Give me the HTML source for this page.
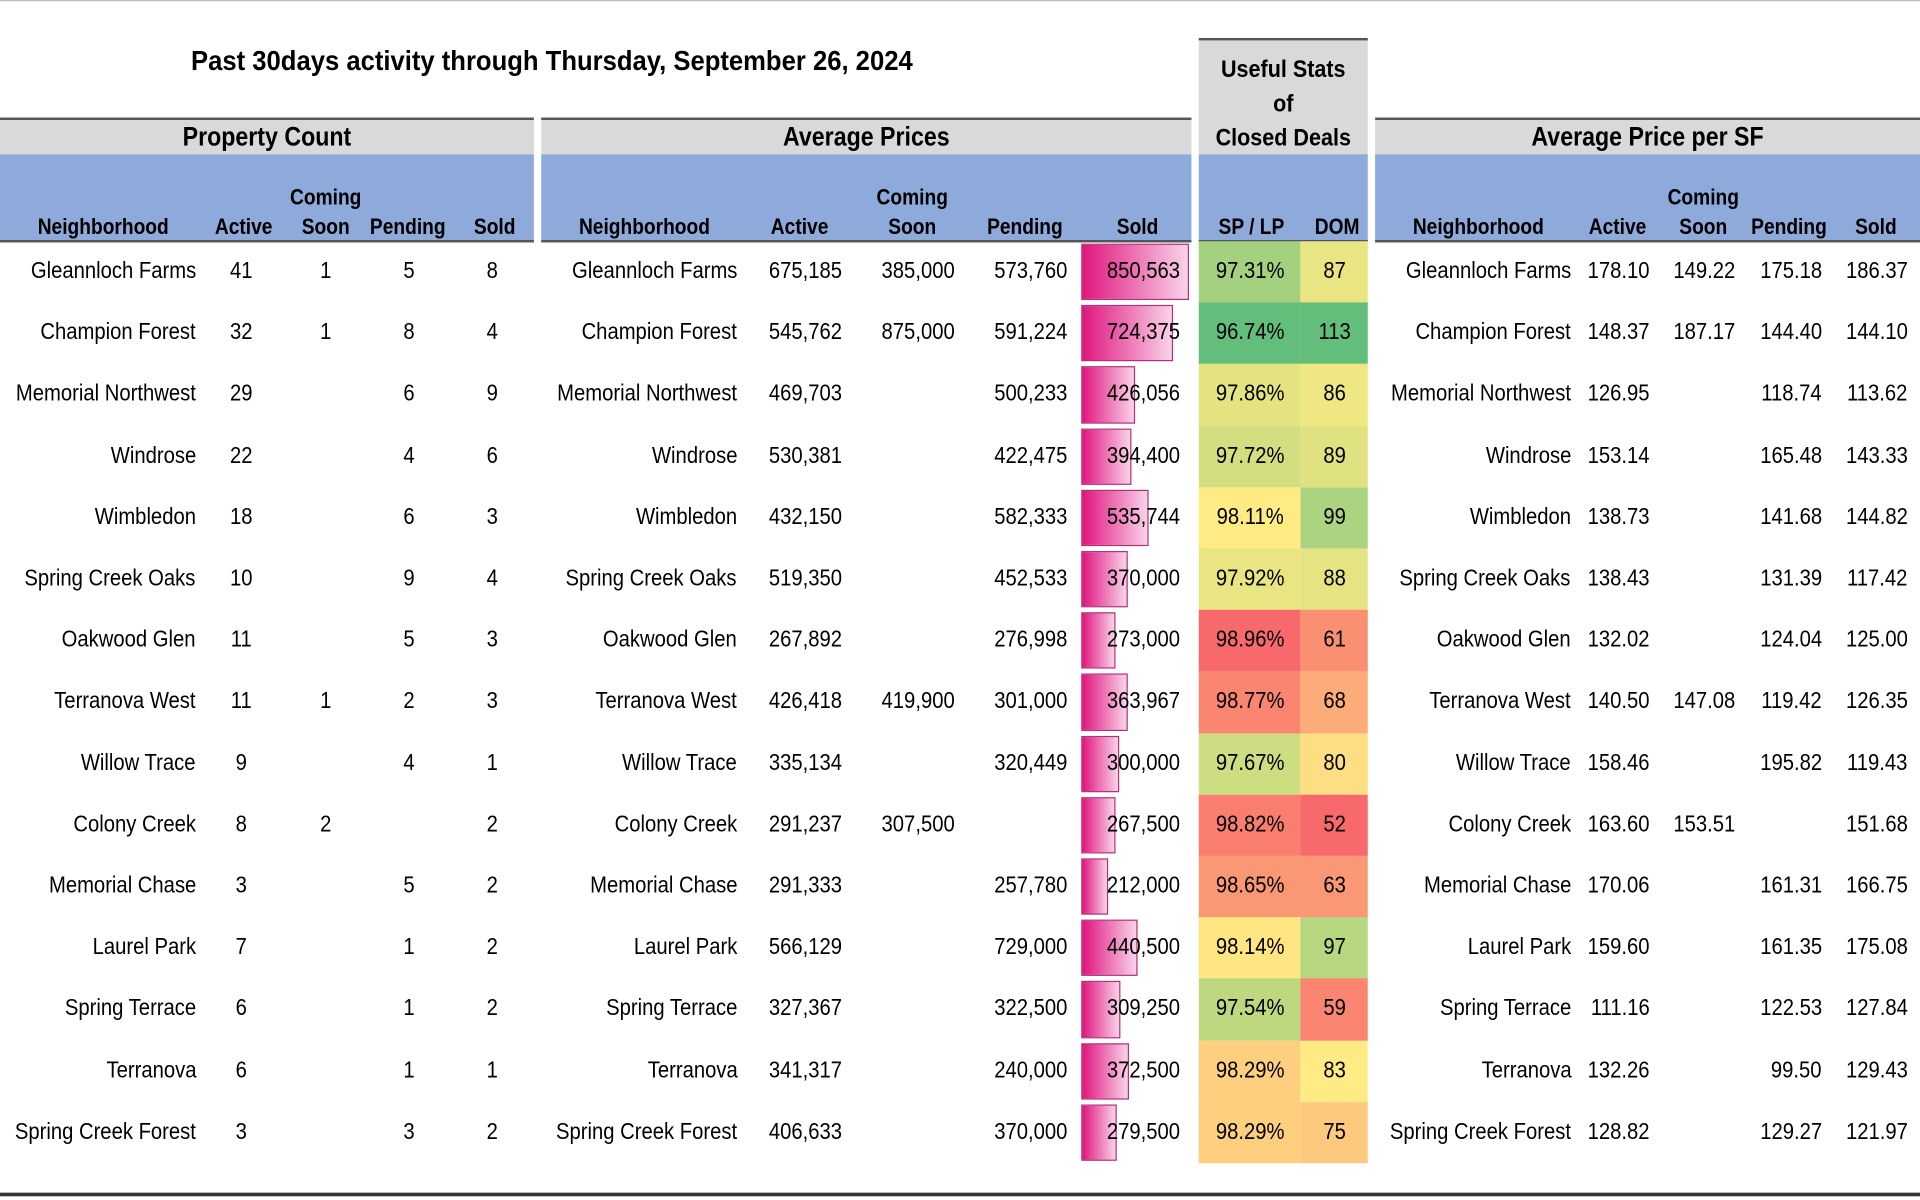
<!DOCTYPE html>
<html><head><meta charset="utf-8">
<style>
html,body{margin:0;padding:0;background:#fff;}
body{width:1920px;height:1200px;overflow:hidden;position:relative;}
#wrap{position:absolute;left:0;top:0;width:1568px;height:980px;transform:scale(1.22449);transform-origin:0 0;font-family:"Liberation Sans",sans-serif;color:#000;}
.abs{position:absolute;white-space:nowrap;}
.gray{position:absolute;background:#d9d9d9;border-top:2px solid #555;box-sizing:border-box;}
.blue{position:absolute;background:#8eaadb;border-bottom:2px solid #555;box-sizing:border-box;}
.sec{font-weight:bold;font-size:22px;text-align:center;transform:scaleX(.86);transform-origin:center;}
.hd{font-weight:bold;font-size:18px;}
.c{font-size:19px;line-height:20px;}
.sx{transform:scaleX(.87);}
</style></head><body>
<div id="wrap">
<div class="abs" style="left:0;top:0;width:1568px;height:1px;background:#bbb"></div>
<div class="abs" style="left:156px;top:36px;font-weight:bold;font-size:23px;transform:scaleX(.91);transform-origin:left">Past 30days activity through Thursday, September 26, 2024</div>

<div class="gray" style="left:0;top:96px;width:436px;height:30px"></div>
<div class="gray" style="left:442px;top:96px;width:531px;height:30px"></div>
<div class="gray" style="left:979px;top:31px;width:138px;height:95px"></div>
<div class="gray" style="left:1123px;top:96px;width:445px;height:30px"></div>
<div class="blue" style="left:0;top:126px;width:436px;height:72px"></div>
<div class="blue" style="left:442px;top:126px;width:531px;height:72px"></div>
<div class="blue" style="left:979px;top:126px;width:138px;height:72px"></div>
<div class="blue" style="left:1123px;top:126px;width:445px;height:72px"></div>

<div class="abs sec" style="left:0;width:436px;top:99px">Property Count</div>
<div class="abs sec" style="left:442px;width:531px;top:99px">Average Prices</div>
<div class="abs sec" style="left:1123px;width:445px;top:99px">Average Price per SF</div>
<div class="abs" style="left:979px;width:138px;top:43px;text-align:center;font-weight:bold;font-size:20px;line-height:28px;transform:scaleX(.88)">Useful Stats<br>of<br>Closed Deals</div>

<div class="abs" style="left:0;top:974px;width:1568px;height:3px;background:#333"></div>
</div>
<script>
const names=["Gleannloch Farms","Champion Forest","Memorial Northwest","Windrose","Wimbledon","Spring Creek Oaks","Oakwood Glen","Terranova West","Willow Trace","Colony Creek","Memorial Chase","Laurel Park","Spring Terrace","Terranova","Spring Creek Forest"];
const cntActive=[41,32,29,22,18,10,11,11,9,8,3,7,6,6,3];
const cntSoon=[1,1,"","","","","",1,"",2,"","","","",""];
const cntPending=[5,8,6,4,6,9,5,2,4,"",5,1,1,1,3];
const cntSold=[8,4,9,6,3,4,3,3,1,2,2,2,2,1,2];
const prActive=[675185,545762,469703,530381,432150,519350,267892,426418,335134,291237,291333,566129,327367,341317,406633];
const prSoon=[385000,875000,"","","","","",419900,"",307500,"","","","",""];
const prPending=[573760,591224,500233,422475,582333,452533,276998,301000,320449,"",257780,729000,322500,240000,370000];
const prSold=[850563,724375,426056,394400,535744,370000,273000,363967,300000,267500,212000,440500,309250,372500,279500];
const spLp=[97.31,96.74,97.86,97.72,98.11,97.92,98.96,98.77,97.67,98.82,98.65,98.14,97.54,98.29,98.29];
const dom=[87,113,86,89,99,88,61,68,80,52,63,97,59,83,75];
const sfActive=["178.10","148.37","126.95","153.14","138.73","138.43","132.02","140.50","158.46","163.60","170.06","159.60","111.16","132.26","128.82"];
const sfSoon=["149.22","187.17","","","","","","147.08","","153.51","","","","",""];
const sfPending=["175.18","144.40","118.74","165.48","141.68","131.39","124.04","119.42","195.82","","161.31","161.35","122.53","99.50","129.27"];
const sfSold=["186.37","144.10","113.62","143.33","144.82","117.42","125.00","126.35","119.43","151.68","166.75","175.08","127.84","129.43","121.97"];

const L=document.getElementById('wrap');
const fmt=v=>v===""?"":Number(v).toLocaleString('en-US');
function txt(t,x,y,align,cls,name){
  const d=document.createElement('div');
  d.className='abs sx '+cls;
  d.textContent=t;
  
  
  d.style.top=y+'px';
  if(align==='r'){d.style.right=(1568-x)+'px';d.style.transformOrigin='right';}
  else if(align==='c'){d.style.left=(x-60)+'px';d.style.width='120px';d.style.textAlign='center';d.style.transformOrigin='center';}
  else {d.style.left=x+'px';d.style.transformOrigin='left';}
  L.appendChild(d);
}
const hdrs=[["Neighborhood",83],["Active",199],["Soon",266],["Pending",333],["Sold",404],
["Neighborhood",525],["Active",653],["Soon",745],["Pending",837],["Sold",929],
["SP / LP",1022],["DOM",1092],
["Neighborhood",1206],["Active",1321],["Soon",1391],["Pending",1461],["Sold",1532]];
hdrs.forEach(h=>txt(h[0],h[1],175,'c','hd','column-header'));
[266,745,1391].forEach(x=>txt("Coming",x,151,'c','hd','column-header'));

function scale3(v,min,mid,max,cLow,cMid,cHigh){
  let a,b,t;
  if(v<=mid){a=cLow;b=cMid;t=(v-min)/(mid-min);}else{a=cMid;b=cHigh;t=(v-mid)/(max-mid);}
  t=Math.max(0,Math.min(1,t));
  return 'rgb('+a.map((c,i)=>Math.round(c+(b[i]-c)*t)).join(',')+')';
}
function median(arr){const s=[...arr].sort((a,b)=>a-b);return s[Math.floor(s.length/2)];}
const G=[99,190,123],Y=[255,235,132],R=[248,105,107];
const spMin=Math.min(...spLp),spMax=Math.max(...spLp),spMid=median(spLp);
const dMin=Math.min(...dom),dMax=Math.max(...dom),dMid=median(dom);
const maxSold=Math.max(...prSold);
const rowTop=197,rowH=50.2;
names.forEach((n,i)=>{
  const top=rowTop+i*rowH, ty=top+15;
  const c1=document.createElement('div');
  c1.className='abs';
  
  
  c1.style.cssText=`left:979px;top:${top}px;width:83px;height:${rowH+0.5}px;background:${scale3(spLp[i],spMin,spMid,spMax,G,Y,R)}`;
  L.appendChild(c1);
  const c2=document.createElement('div');
  c2.className='abs';
  
  
  c2.style.cssText=`left:1062px;top:${top}px;width:55px;height:${rowH+0.5}px;background:${scale3(dom[i],dMin,dMid,dMax,R,Y,G)}`;
  L.appendChild(c2);
  const b=document.createElement('div');
  b.className='abs';
  
  
  b.style.cssText=`left:883px;top:${top+2}px;width:${prSold[i]/maxSold*88}px;height:${rowH-4}px;background:linear-gradient(to right,#e0157f,#f9d3e9);border:1px solid #b0307a;box-sizing:border-box`;
  L.appendChild(b);
  txt(n,160,ty,'r','c','neighborhood-name');
  txt(cntActive[i],197,ty,'c','c','active-count');
  txt(cntSoon[i],266,ty,'c','c','coming-soon-count');
  txt(cntPending[i],334,ty,'c','c','pending-count');
  txt(cntSold[i],402,ty,'c','c','sold-count');
  txt(n,602,ty,'r','c','neighborhood-name');
  txt(fmt(prActive[i]),688,ty,'r','c','active-price');
  txt(fmt(prSoon[i]),780,ty,'r','c','coming-soon-price');
  txt(fmt(prPending[i]),872,ty,'r','c','pending-price');
  txt(fmt(prSold[i]),964,ty,'r','c','sold-price');
  txt(spLp[i].toFixed(2)+'%',1021,ty,'c','c','sp-lp-value');
  txt(dom[i],1090,ty,'c','c','dom-value');
  txt(n,1283,ty,'r','c','neighborhood-name');
  txt(sfActive[i],1347,ty,'r','c','active-ppsf');
  txt(sfSoon[i],1417,ty,'r','c','coming-soon-ppsf');
  txt(sfPending[i],1488,ty,'r','c','pending-ppsf');
  txt(sfSold[i],1558,ty,'r','c','sold-ppsf');
});
</script>
</body></html>
